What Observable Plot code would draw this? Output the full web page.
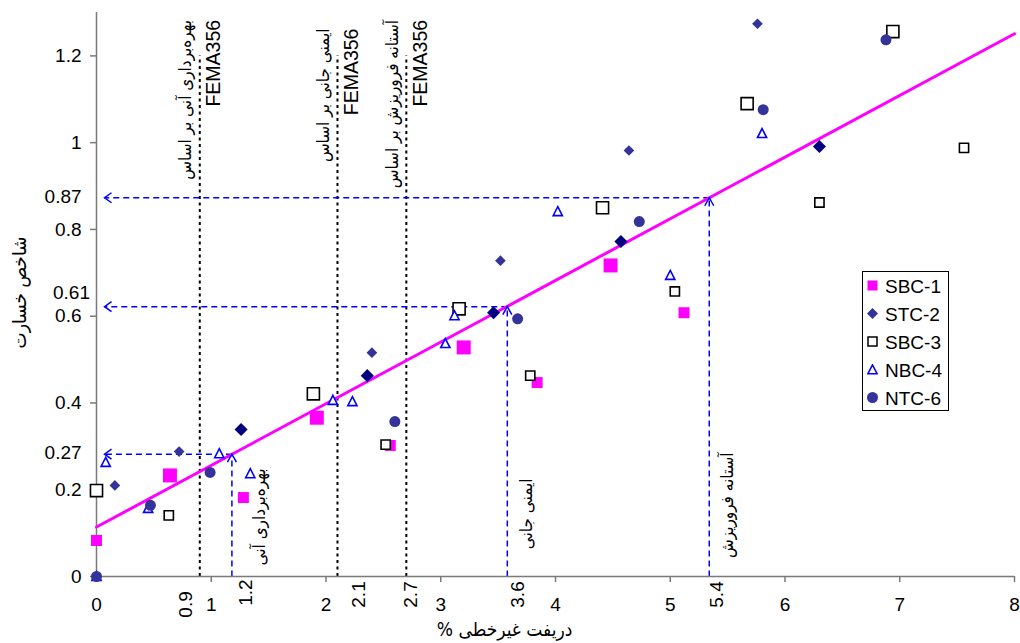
<!DOCTYPE html>
<html><head><meta charset="utf-8">
<script src="https://cdn.jsdelivr.net/npm/d3@7"></script>
<script src="https://cdn.jsdelivr.net/npm/@observablehq/plot@0.6"></script>
<style>
body{margin:0;background:#fff;}
#wrap{position:relative;width:1020px;height:643px;}
#legend{position:absolute;left:862px;top:271px;width:87px;height:140px;box-sizing:border-box;border:1.5px solid #000;background:#fff;font:19px "Liberation Sans",Arial,sans-serif;color:#000;}
#legend .row{position:absolute;left:0;height:28px;width:100%;}
#legend svg{position:absolute;left:4px;top:7px;}
#legend span{position:absolute;left:22px;top:3px;line-height:22px;}
</style></head>
<body><div id="wrap"></div>
<script>
// ---------- data ----------
const xTicks = [0, 1, 2, 3, 4, 5, 6, 7, 8];
const yTicks = [0, 0.2, 0.4, 0.6, 0.8, 1, 1.2];
const xExtraTicks = ["0.9", "1.2", "2.1", "2.7", "3.6", "5.4"];
const yExtraTicks = ["0.27", "0.61", "0.87"];

const sbc1LargeX = [0.64, 1.92, 3.20, 4.48];
const sbc1LargeY = [0.233, 0.366, 0.528, 0.717];
const sbc1SmallX = [0, 1.28, 2.56, 3.84, 5.12];
const sbc1SmallY = [0.083, 0.182, 0.302, 0.447, 0.608];
const stc2LargeX = [1.26, 2.36, 3.46, 4.57, 6.30];
const stc2LargeY = [0.339, 0.463, 0.608, 0.772, 0.991];
const stc2SmallX = [0.16, 0.72, 2.40, 3.52, 4.64, 5.76];
const stc2SmallY = [0.210, 0.288, 0.516, 0.728, 0.982, 1.274];
const sbc3LargeX = [0, 1.89, 3.16, 4.41, 5.67, 6.94];
const sbc3LargeY = [0.198, 0.421, 0.617, 0.850, 1.090, 1.256];
const sbc3SmallX = [0.63, 2.52, 3.78, 5.04, 6.30, 7.56];
const sbc3SmallY = [0.141, 0.304, 0.463, 0.657, 0.862, 0.988];
const nbc4X = [0, 0.08, 0.45, 1.07, 1.34, 2.06, 2.23, 3.04, 3.12, 4.02, 5.00, 5.80];
const nbc4Y = [0, 0.263, 0.157, 0.283, 0.237, 0.406, 0.403, 0.537, 0.601, 0.841, 0.694, 1.021];
const ntc6X = [0, 0.47, 0.99, 2.60, 3.67, 4.73, 5.81, 6.88];
const ntc6Y = [0, 0.164, 0.240, 0.357, 0.594, 0.818, 1.076, 1.237];

const fitX = [0, 8];
const fitY = [0.114, 1.251];

const femaX = [0.9, 2.1, 2.7];
const femaTopY = 1.2;
const femaLabels = ["بهره‌برداری آنی بر اساس", "ایمنی جانی بر اساس", "آستانه فروریزش بر اساس"];
const femaCode = "FEMA356";

const guideX = [1.18, 3.58, 5.34];
const guideY = [0.282, 0.622, 0.873];
const guideLabels = ["بهره‌برداری آنی", "ایمنی جانی", "آستانه فروریزش"];
const arrowTipX = 0.07;

const seriesNames = ["SBC-1", "STC-2", "SBC-3", "NBC-4", "NTC-6"];
const xTitle = "دریفت غیرخطی %\u200F";
const yTitle = "شاخص خسارت";

// ---------- layout / style ----------
const pts = (xs, ys) => xs.map((x, i) => ({x, y: ys[i]}));
const font = '"Liberation Sans", Arial, "DejaVu Sans", sans-serif';
const faFont = '"DejaVu Sans Condensed", "DejaVu Sans", sans-serif';
const magenta = "#FF00FF", navy = "#000080", mid = "#333399", blue = "#0000FF", axisGray = "#7a7a7a";

const chevLeft = {draw(c) { c.moveTo(7, -5); c.lineTo(0, 0); c.lineTo(7, 5); }};
const chevUp = {draw(c) { c.moveTo(-4.5, 8); c.lineTo(0, 0); c.lineTo(4.5, 8); }};
const tri = {draw(c) { c.moveTo(0, -5); c.lineTo(4.6, 4); c.lineTo(-4.6, 4); c.closePath(); }};

const guides = pts(guideX, guideY);
const xExtraPos = [[0.78, -0.0645], [1.303, -0.037], [2.288, -0.0415], [2.736, -0.0415], [3.673, -0.0415], [5.407, -0.0415]];
const femaTopPos = [1.283, 1.263, 1.283];
const lowLabelPos = [[1.425, 0.249], [3.75, 0.226], [5.50, 0.286]];
const yExtraPos = [[-0.13, 0.286], [-0.057, 0.654], [-0.13, 0.874]];

const chart = Plot.plot({
  width: 1020, height: 643,
  marginLeft: 96, marginRight: 6, marginTop: 12, marginBottom: 67,
  x: {domain: [0, 8]},
  y: {domain: [0, 1.3]},
  style: {fontFamily: font, fontSize: "19px", background: "#fff", overflow: "visible"},
  marks: [
    // FEMA dotted lines
    Plot.ruleX(femaX, {x: d => d, y1: 0, y2: femaTopY, stroke: "#000", strokeWidth: 2, strokeDasharray: "3,3.5"}),
    // guide dashed lines
    Plot.link(guides, {x1: "x", y1: "y", x2: arrowTipX, y2: "y", stroke: blue, strokeWidth: 1.5, strokeDasharray: "6,4"}),
    Plot.link(guides, {x1: "x", y1: 0, x2: "x", y2: "y", stroke: blue, strokeWidth: 1.5, strokeDasharray: "6,4"}),
    // axes lines
    Plot.ruleY([0], {stroke: axisGray, strokeWidth: 1.5}),
    Plot.ruleX([0], {stroke: axisGray, strokeWidth: 1.5}),
    Plot.axisX(xTicks, {label: null, tickSize: 6, tickPadding: 15, fontSize: 19, stroke: axisGray, strokeWidth: 1.5, tickFormat: d => String(d)}),
    Plot.axisY(yTicks, {label: null, tickSize: 6, tickPadding: 9, fontSize: 19, stroke: axisGray, strokeWidth: 1.5, tickFormat: d => String(d)}),
    // fit line
    Plot.line(pts(fitX, fitY), {x: "x", y: "y", stroke: magenta, strokeWidth: 3}),
    // series
    Plot.dot(pts(sbc1LargeX, sbc1LargeY), {x: "x", y: "y", symbol: "square", r: 7.9, fill: magenta, stroke: "none"}),
    Plot.dot(pts(sbc1SmallX, sbc1SmallY), {x: "x", y: "y", symbol: "square", r: 6.2, fill: magenta, stroke: "none"}),
    Plot.dot(pts(stc2SmallX, stc2SmallY), {x: "x", y: "y", symbol: "diamond2", r: 4.8, fill: mid, stroke: "none"}),
    Plot.dot(pts(stc2LargeX, stc2LargeY), {x: "x", y: "y", symbol: "diamond2", r: 5.9, fill: navy, stroke: "none"}),
    Plot.dot(pts(sbc3LargeX, sbc3LargeY), {x: "x", y: "y", symbol: "square", r: 6.8, fill: "#fff", stroke: "#000", strokeWidth: 1.6}),
    Plot.dot(pts(sbc3SmallX, sbc3SmallY), {x: "x", y: "y", symbol: "square", r: 5.2, fill: "#fff", stroke: "#000", strokeWidth: 1.6}),
    Plot.dot(pts(nbc4X, nbc4Y), {x: "x", y: "y", symbol: tri, fill: "#fff", stroke: blue, strokeWidth: 1.6}),
    Plot.dot(pts(ntc6X, ntc6Y), {x: "x", y: "y", symbol: "circle", r: 5.5, fill: mid, stroke: "none"}),
    // arrow heads
    Plot.dot(guides, {x: arrowTipX, y: "y", symbol: chevLeft, fill: "none", stroke: blue, strokeWidth: 1.5}),
    Plot.dot(guides, {x: "x", y: "y", symbol: chevUp, fill: "none", stroke: blue, strokeWidth: 1.5}),
    // extra tick labels
    Plot.text(xExtraTicks, {x: (d, i) => xExtraPos[i][0], y: (d, i) => xExtraPos[i][1], text: d => d, rotate: -90, textAnchor: "middle", lineAnchor: "middle", fontSize: 19, fill: "#000"}),
    Plot.text(yExtraTicks, {x: (d, i) => yExtraPos[i][0], y: (d, i) => yExtraPos[i][1], text: d => d, textAnchor: "end", fontSize: 19, fill: "#000"}),
    // FEMA labels
    Plot.text(femaLabels, {x: (d, i) => femaX[i], y: (d, i) => femaTopPos[i], dx: -14, text: d => d, rotate: -90, textAnchor: "end", fontFamily: faFont, fontSize: 17, fill: "#000"}),
    Plot.text(femaX, {x: d => d, y: (d, i) => femaTopPos[i], dx: 14, text: () => femaCode, rotate: -90, textAnchor: "end", fontSize: 19.5, fill: "#000"}),
    // lower guide labels
    Plot.text(guideLabels, {x: (d, i) => lowLabelPos[i][0], y: (d, i) => lowLabelPos[i][1], text: d => d, rotate: -90, textAnchor: "end", fontFamily: faFont, fontSize: 17, fill: "#000"}),
    // axis titles
    Plot.text([yTitle], {frameAnchor: "left", dx: -77, dy: -2, text: d => d, rotate: -90, textAnchor: "middle", lineAnchor: "middle", fontFamily: faFont, fontSize: 19, fill: "#000"}),
    Plot.text([xTitle], {frameAnchor: "bottom", dx: -51, dy: 53, text: d => d, textAnchor: "middle", lineAnchor: "middle", fontFamily: faFont, fontSize: 19, fill: "#000"})
  ]
});

const wrap = document.getElementById("wrap");
wrap.appendChild(chart);

// legend
const legendSym = [
  '<rect x="0.5" y="0.5" width="10" height="10" fill="#FF00FF"/>',
  '<polygon points="5.5,0 11,5.5 5.5,11 0,5.5" fill="#333399"/>',
  '<rect x="1" y="1" width="9" height="9" fill="#fff" stroke="#000" stroke-width="1.5"/>',
  '<polygon points="5.5,0.8 10.2,9.8 0.8,9.8" fill="#fff" stroke="#0000FF" stroke-width="1.5"/>',
  '<circle cx="5.5" cy="5.5" r="5.5" fill="#333399"/>'
];
const leg = document.createElement("div");
leg.id = "legend";
seriesNames.forEach((name, i) => {
  const row = document.createElement("div");
  row.className = "row";
  row.style.top = (1 + i * 28) + "px";
  row.innerHTML = `<svg width="11" height="11" viewBox="0 0 11 11">${legendSym[i]}</svg><span>${name}</span>`;
  leg.appendChild(row);
});
wrap.appendChild(leg);
</script>
</body></html>
